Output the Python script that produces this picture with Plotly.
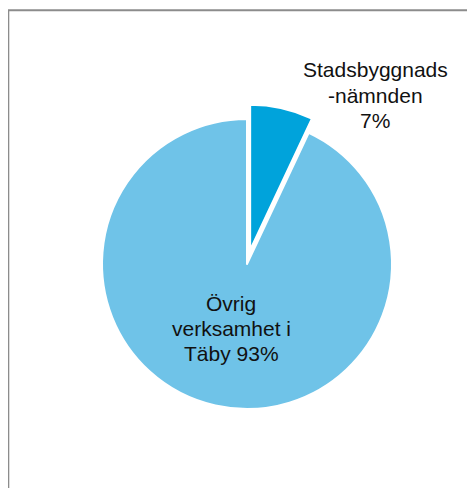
import plotly.graph_objects as go

# Data
labels = ["Stadsbyggnadsnämnden", "Övrig verksamhet i Täby"]
values = [7, 93]
label_lines = [["Stadsbyggnads", "-nämnden", "7%"], ["Övrig", "verksamhet i", "Täby 93%"]]
colors = ["#00A3DB", "#6FC3E8"]

W, H = 475, 488
OFF = 8  # page body margin

fig = go.Figure()
fig.add_trace(go.Pie(
    labels=labels,
    values=values,
    sort=False,
    direction="clockwise",
    rotation=0,
    pull=[0.1, 0],
    textinfo="none",
    hoverinfo="label+percent",
    marker=dict(colors=colors, line=dict(color="white", width=2)),
    domain=dict(x=[0.1674, 0.8389], y=[0.1486, 0.8023]),
    showlegend=False,
))

def px(x):
    return (x - OFF) / W

def py(y):
    return 1 - (y - OFF) / H

font = dict(family="Liberation Sans, Arial, sans-serif", size=21, color="#111111")

label_pos = [(375, 70), (231, 303)]
for (cx, cy), lines in zip(label_pos, label_lines):
    for i, line in enumerate(lines):
        fig.add_annotation(x=px(cx), y=py(cy + 25 * i), xref="paper", yref="paper",
                           text=line, showarrow=False, font=font,
                           align="center", xanchor="center", yanchor="middle")

# chart border (left and top visible)
fig.add_shape(type="rect", xref="paper", yref="paper",
              x0=px(8.3), x1=px(W + 40), y0=py(H + 40), y1=py(10.3),
              line=dict(color="#8c8c8c", width=2), fillcolor="rgba(0,0,0,0)")

fig.update_layout(
    width=W, height=H,
    margin=dict(l=0, r=0, t=0, b=0),
    paper_bgcolor="white",
    plot_bgcolor="white",
)

fig.write_html("out.html")
